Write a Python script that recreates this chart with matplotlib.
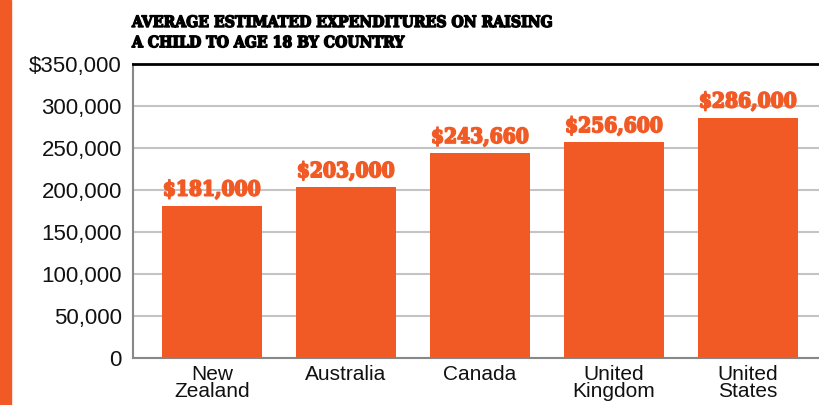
import matplotlib
matplotlib.use("Agg")
import matplotlib.pyplot as plt
import matplotlib.patheffects as pe
from matplotlib.patches import Rectangle

countries = ["New\nZealand", "Australia", "Canada", "United\nKingdom", "United\nStates"]
costs = [181000, 203000, 243660, 256600, 286000]
y_ticks = [0, 50000, 100000, 150000, 200000, 250000, 300000, 350000]
y_tick_labels = ["0", "50,000", "100,000", "150,000", "200,000", "250,000", "300,000", "$350,000"]

orange = "#F15A24"

fig = plt.figure(figsize=(8.19, 4.05), dpi=100)
ax = fig.add_axes([133 / 819, (405 - 358) / 405, (819 - 133) / 819, (358 - 64) / 405])

# orange stripe on the left edge
fig.patches.append(Rectangle((0, 0), 11 / 819, 1, transform=fig.transFigure,
                             color=orange, zorder=0))

x = range(len(countries))
ax.bar(x, costs, width=0.75, color=orange, zorder=3)
for i, v in zip(x, costs):
    ax.text(i, v + 7500, "${:,}".format(v), ha="center", va="bottom",
            color=orange, fontsize=15, fontweight="bold", family="DejaVu Serif",
            fontstretch="condensed",
            path_effects=[pe.withStroke(linewidth=1.2, foreground=orange)])

ax.set_xlim(-0.59, 4.53)
ax.set_ylim(0, 350000)
ax.set_yticks(y_ticks)
ax.set_yticklabels(y_tick_labels, fontsize=16, family="Liberation Sans", color="#111111")
ax.set_xticks(list(x))
ax.set_xticklabels(countries, fontsize=15, family="Liberation Sans", linespacing=0.9,
                   color="#111111")
ax.tick_params(axis="y", length=0, pad=8)
ax.tick_params(axis="x", length=0, pad=5)
ax.yaxis.grid(True, color="#c4c4c4", linewidth=1.5, zorder=0)

ax.spines["right"].set_visible(False)
ax.spines["top"].set_color("black")
ax.spines["top"].set_linewidth(2)
ax.spines["left"].set_color("#888888")
ax.spines["left"].set_linewidth(1.5)
ax.spines["bottom"].set_color("#888888")
ax.spines["bottom"].set_linewidth(1.5)

fig.text(132 / 819, 1 - 14 / 405, "AVERAGE ESTIMATED EXPENDITURES ON RAISING\nA CHILD TO AGE 18 BY COUNTRY",
         ha="left", va="top", fontsize=11.3, fontweight="bold", family="DejaVu Serif",
         fontstretch="condensed", linespacing=1.25,
         path_effects=[pe.withStroke(linewidth=1.0, foreground="black")])

fig.savefig("out.png", dpi=100)
